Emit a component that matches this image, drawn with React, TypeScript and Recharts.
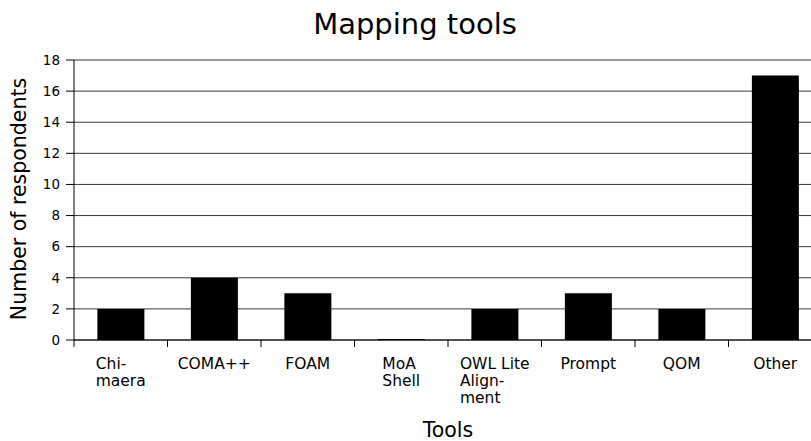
import React from 'react';
import { BarChart, Bar, XAxis, YAxis, CartesianGrid, Label } from 'recharts';

const categories = ['Chimaera', 'COMA++', 'FOAM', 'MoA Shell', 'OWL Lite Alignment', 'Prompt', 'QOM', 'Other'];
const tickLabelLines = [
  ['Chi-', 'maera'],
  ['COMA++'],
  ['FOAM'],
  ['MoA', 'Shell'],
  ['OWL Lite', 'Align-', 'ment'],
  ['Prompt'],
  ['QOM'],
  ['Other'],
];
const respondents = [2, 4, 3, 0, 2, 3, 2, 17];
const yTicks = [0, 2, 4, 6, 8, 10, 12, 14, 16, 18];
const chartTitle = 'Mapping tools';
const xTitle = 'Tools';
const yTitle = 'Number of respondents';

const data = categories.map((name, i) => ({ name, value: respondents[i] }));

const FONT = "'DejaVu Sans', Verdana, sans-serif";
const TICK_FONT_SIZE = 15.5;

let ctx: CanvasRenderingContext2D | null = null;
function measure(s: string, size: number) {
  if (!ctx) ctx = document.createElement('canvas').getContext('2d');
  if (!ctx) return s.length * size * 0.6;
  ctx.font = `${size}px 'DejaVu Sans'`;
  return ctx.measureText(s).width;
}

const XTick = (props: any) => {
  const { x, y, payload } = props;
  const idx = categories.indexOf(payload.value);
  const lines = tickLabelLines[idx] || [String(payload.value)];
  const off = payload.offset ?? 46.75;
  const maxW = Math.max(...lines.map((l) => measure(l, TICK_FONT_SIZE)));
  const startX = x - maxW / 2;
  return (
    <g>
      <line x1={x - off} y1={y} x2={x - off} y2={y + 7} stroke="#000" strokeWidth={1} />
      {idx === categories.length - 1 && (
        <line x1={x + off} y1={y} x2={x + off} y2={y + 7} stroke="#000" strokeWidth={1} />
      )}
      {lines.map((l, i) => (
        <text key={i} x={startX} y={y + 29 + i * 17} textAnchor="start" fontFamily={FONT} fontSize={TICK_FONT_SIZE} fill="#000">
          {l}
        </text>
      ))}
    </g>
  );
};

export default function App() {
  return (
    <div style={{ position: 'fixed', left: 0, top: 0, width: 811, height: 441, overflow: 'hidden', background: '#fff' }}>
      <div style={{ position: 'absolute', left: 8, top: 8 }}>
        <BarChart
          width={814}
          height={433}
          data={data}
          margin={{ top: 52, right: 0, bottom: 41, left: 0 }}
          barCategoryGap="25%"
        >
          <CartesianGrid vertical={false} stroke="#3a3a3a" strokeWidth={1} />
          <XAxis
            dataKey="name"
            tickSize={0}
            tickMargin={0}
            tickLine={false}
            height={60}
            axisLine={{ stroke: '#000' }}
            tick={<XTick />}
            interval={0}
          >
            <Label
              content={(p: any) => {
                const vb = p.viewBox || {};
                return (
                  <text x={vb.x + vb.width / 2} y={428.5} textAnchor="middle" fontFamily={FONT} fontSize={20.5} fill="#000">
                    {xTitle}
                  </text>
                );
              }}
            />
          </XAxis>
          <YAxis
            width={66}
            domain={[0, 18]}
            ticks={yTicks}
            interval={0}
            tickSize={8}
            tickMargin={6}
            axisLine={{ stroke: '#000' }}
            tickLine={{ stroke: '#000' }}
            tick={{ fontFamily: FONT, fontSize: 13.5, fill: '#000' }}
          >
            <Label
              content={(p: any) => {
                const vb = p.viewBox || {};
                const cx = 18;
                const cy = vb.y + vb.height / 2 - 1;
                return (
                  <g>
                    <text x={cx} y={cy} transform={`rotate(-90, ${cx}, ${cy})`} textAnchor="middle" fontFamily={FONT} fontSize={20.5} fill="#000">
                      {yTitle}
                    </text>
                    <text x={407} y={26} textAnchor="middle" fontFamily={FONT} fontSize={29} fill="#000">
                      {chartTitle}
                    </text>
                  </g>
                );
              }}
            />
          </YAxis>
          <Bar dataKey="value" fill="#000" minPointSize={1} isAnimationActive={false} />
        </BarChart>
      </div>
    </div>
  );
}
